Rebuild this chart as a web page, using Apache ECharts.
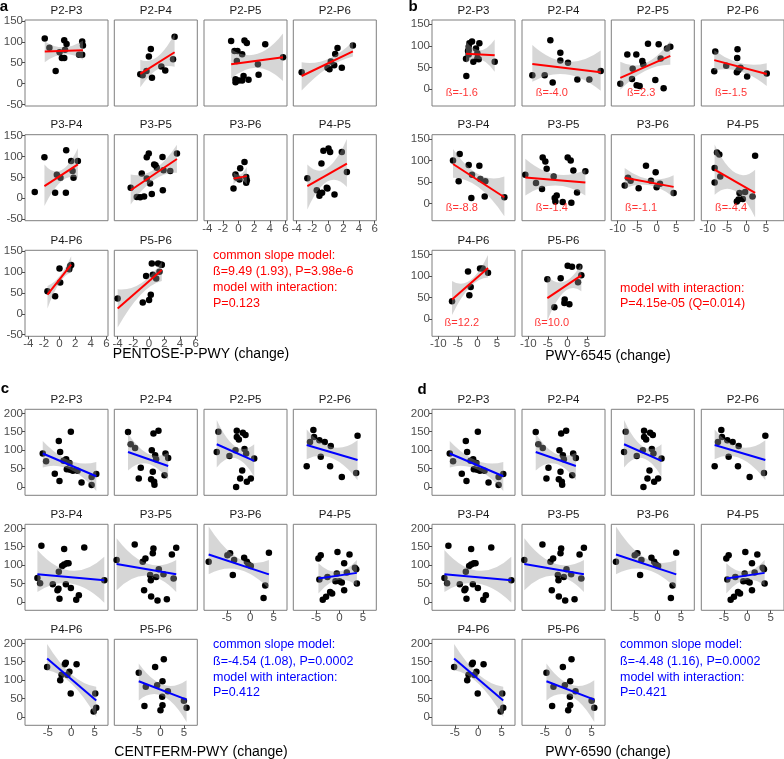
<!DOCTYPE html>
<html><head><meta charset="utf-8">
<script src="https://cdn.jsdelivr.net/npm/echarts@6/dist/echarts.min.js"></script>
<style>html,body{margin:0;padding:0;background:#fff}#c{width:784px;height:759px}</style>
</head><body><div id="c"></div>
<script>
// ---------------- DATA ----------------
const facets = ['P2-P3','P2-P4','P2-P5','P2-P6','P3-P4','P3-P5','P3-P6','P4-P5','P4-P6','P5-P6'];

// Panel a: PENTOSE-P-PWY
const a_points = [
 [[-1.9,108],[-1.3,86],[-0.5,30],[0,75],[0.3,61],[0.6,61],[0.6,104],[0.9,95],[0.7,81],[2.5,69],[2.9,69],[2.9,101],[3.0,91]],
 [[-1.1,22],[-0.8,20],[-0.3,30],[0,65],[0.25,83],[0.4,14],[1.6,41],[2.1,31],[3.1,58],[3.3,112]],
 [[-0.95,102],[-0.52,78],[-0.14,78],[-0.22,54],[0.46,70],[0.76,103],[1.06,97],[-0.39,10],[-0.39,3],[0.03,7],[0.46,7],[0.64,18],[1.28,9],[2.48,46],[2.57,21],[3.42,94],[5.7,63]],
 [[-3.36,27],[-0.05,38],[0.21,34],[0.38,53],[0.94,71],[1.24,85],[0.81,44],[1.79,38],[3.21,91]],
 [[-3.18,15],[-1.94,98],[-0.57,13],[-0.35,56],[0.12,49],[0.81,13],[0.85,115],[1.49,89],[1.67,65],[1.79,49],[2.35,89]],
 [[-2.33,25],[-1.55,3],[-1.12,2],[-0.91,59],[-0.61,4],[-0.27,47],[-0.27,98],[-0.01,107],[0.16,35],[0.38,10],[0.68,81],[0.85,79],[1.02,73],[1.75,99],[1.79,19],[1.88,67],[2.74,65],[3.6,107]],
 [[-0.65,23],[-0.39,57],[-0.22,49],[0.21,72],[0.12,45],[0.76,87],[0.98,51],[0.98,37],[1.06,43]],
 [[-2.63,48],[-1.42,19],[-1.08,6],[-0.74,13],[-0.82,83],[-0.57,114],[-0.14,25],[-0.05,23],[0.08,119],[0.29,111],[0.85,9],[1.79,111],[2.44,63]],
 [[-1.55,54],[-0.57,42],[-0.01,109],[0.08,75],[1.24,107],[1.36,115],[1.49,117]],
 [[-4.0,37],[-0.78,27],[-0.35,91],[0.03,33],[0.25,46],[0.38,121],[0.51,94],[0.94,85],[1.19,121],[1.58,118],[1.66,118],[1.36,101]]
];
const a_fits = [[-1.9,77,3.0,80],[-1.1,23,3.3,75],[-0.95,46,5.7,63],[-3.36,18,3.21,77],[-1.94,29,2.35,81],
 [-2.33,19,3.6,94],[-0.65,47,1.06,53],[-2.63,29,2.44,83],[-1.55,46,1.49,118],[-4.0,13,1.66,105]];
const a_bands = [
 [[-1.9,51,101],[0.55,70,87],[3.0,57,103]],
 [[-1.1,-9,57],[1.1,34,64],[3.3,40,120]],
 [[-0.95,12,82],[2.4,38,71],[5.7,6,120]],
 [[-3.36,-17,51],[-0.07,37,58],[3.21,65,101]],
 [[-1.94,-19,81],[0.2,40,67],[2.35,49,120]],
 [[-2.33,-15,57],[0.64,44,68],[3.6,61,128]],
 [[-0.65,33,63],[0.2,43,57],[1.06,33,75]],
 [[-2.63,-27,81],[-0.1,40,72],[2.44,27,142]],
 [[-1.55,13,67],[0,74,90],[1.49,99,138]],
 [[-4.0,-33,59],[-1.1,45,72],[1.66,79,125]]
];

// Panel b: PWY-6545
const b_points = [
 [[-2.84,30],[-2.92,70],[-2.41,88],[-2.24,98],[-2.07,106],[-1.39,110],[-1.05,63],[-0.37,94],[-0.03,83],[-0.03,71],[0.49,106],[0.32,69],[4.41,63],[-2.24,90],[-2.24,80]],
 [[-8.98,32],[-5.82,32],[-4.37,113],[-3.78,15],[-1.82,84],[-1.82,66],[0.14,61],[2.53,22],[5.6,22],[8.5,42]],
 [[-9.32,12],[-7.53,80],[-6.33,23],[-6.16,47],[-5.23,80],[-5.14,9],[-4.37,7],[-3.69,65],[-3.44,57],[-2.24,105],[-0.37,21],[0.49,104],[1.0,71],[1.76,2],[2.62,94],[3.47,98]],
 [[-8.3,41],[-8.04,87],[-5.23,54],[-2.33,92],[-2.5,39],[-2.07,44],[-1.56,49],[0.14,29],[-2.41,72],[5.17,36]],
 [[-6.25,100],[-4.8,52],[-4.54,115],[-2.24,90],[-1.56,13],[-1.39,67],[0.49,88],[0.74,57],[2.02,52],[1.85,17],[6.88,15]],
 [[-10.77,67],[-8.04,48],[-6.5,34],[-6.33,107],[-5.65,98],[-5.31,81],[-3.52,63],[-3.26,13],[-3.09,5],[-2.75,19],[-1.22,4],[0.06,107],[0.83,100],[1.51,77],[1.0,2],[2.45,26],[4.58,75]],
 [[-8.2,42],[-7.36,60],[-6.68,53],[-4.63,36],[-2.75,88],[-1.47,53],[-0.28,73],[-0.03,38],[0.83,46],[4.32,25]],
 [[-8.2,49],[-8.2,83],[-7.6,119],[-7.0,114],[-6.76,63],[-2.5,5],[-2.07,10],[-1.82,25],[-0.96,11],[-0.37,27],[1.51,17],[2.19,111]],
 [[-6.5,42],[-2.41,111],[-2.07,56],[-1.73,75],[0.66,118],[1.34,118],[2.7,108]],
 [[-5.14,93],[-3.35,28],[-1.73,95],[-0.79,38],[-0.71,46],[0.06,124],[0.49,35],[1.17,122],[2.7,86],[3.04,122],[3.55,102]]
];
const b_fits = [[-2.92,82,4.41,78],[-8.98,58,8.5,39],[-9.32,26,3.47,77],[-8.3,67,5.17,35],[-6.25,92,6.88,15],
 [-10.77,61,4.58,49],[-8.2,60,4.32,39],[-8.2,79,2.19,25],[-6.5,46,2.7,119],[-5.14,49,3.55,102]];
const b_bands = [
 [[-2.92,60,110],[0.74,69,90],[4.41,40,115]],
 [[-8.98,17,102],[-0.24,34,63],[8.5,-4,89]],
 [[-9.32,-2,63],[-2.9,42,60],[3.47,56,112]],
 [[-8.3,43,90],[-1.57,41,60],[5.17,7,60]],
 [[-6.25,60,127],[0.3,38,68],[6.88,-29,63]],
 [[-10.77,19,104],[-3.1,42,68],[4.58,19,79]],
 [[-8.2,36,83],[-1.9,43,57],[4.32,15,66]],
 [[-8.2,21,137],[-3.0,30,72],[2.19,-32,79]],
 [[-6.5,10,89],[-1.9,75,90],[2.7,97,149]],
 [[-5.14,-3,100],[-0.8,64,87],[3.55,65,128]]
];
const b_betas = ['ß=-1.6','ß=-4.0','ß=2.3','ß=-1.5','ß=-8.8','ß=-1.4','ß=-1.1','ß=-4.4','ß=12.2','ß=10.0'];

// Panel c: CENTFERM-PWY (panel d, PWY-6590, shows the same values)
const c_points = [
 [[-6.07,91],[-5.36,70],[-3.5,36],[-2.64,125],[-2.5,16],[-2.36,95],[-1.64,71],[-1.07,75],[-0.93,48],[-0.36,65],[-0.21,47],[-0.07,150],[0.36,44],[1.36,44],[2.21,12],[4.36,27],[4.36,5],[5.36,35]],
 [[-6.93,149],[-6.36,116],[-5.43,106],[-4.64,23],[-4.21,52],[-1.86,100],[-1.5,145],[-1.64,41],[-2.0,21],[-1.36,14],[-1.29,6],[-0.43,153],[-1.14,86],[-0.93,75],[0.86,32],[1.07,91],[1.64,79]],
 [[-7.14,95],[-6.79,150],[-4.43,84],[-3.14,100],[-2.86,153],[-2.86,136],[-2.43,129],[-2.14,23],[-3.0,0],[-1.71,45],[-1.57,147],[-1.21,103],[-1.0,141],[-0.86,91],[-0.71,14],[0.14,23],[0.86,77]],
 [[-7.0,56],[-6.29,122],[-5.57,155],[-5.43,136],[-4.29,127],[-4.0,82],[-3.14,122],[-1.86,111],[-2.0,56],[0.5,27],[3.57,38],[3.86,139]],
 [[-7.21,65],[-6.64,51],[-6.36,153],[-3.93,48],[-2.93,32],[-2.71,36],[-2.5,9],[-2.64,82],[-1.93,98],[-1.5,144],[-1.5,102],[-0.93,105],[-1.14,48],[-0.57,105],[-0.07,38],[1.07,6],[1.64,18],[2.79,148],[7.07,59]],
 [[-9.36,114],[-5.5,156],[-3.79,109],[-3.21,118],[-3.5,32],[-2.21,73],[-2.07,59],[-2.0,15],[-1.64,132],[-1.5,145],[-0.93,68],[-0.36,89],[-0.64,4],[0.64,75],[1.36,7],[2.43,129],[2.79,64],[3.36,147]],
 [[-8.86,109],[-4.86,127],[-4.29,132],[-3.71,73],[-3.43,114],[-1.29,120],[-0.71,109],[-0.36,102],[0.14,98],[3.21,45],[2.86,11],[4.0,134]],
 [[-4.29,61],[-2.57,68],[-4.5,118],[-4.0,127],[-3.57,6],[-2.86,14],[-2.0,27],[-1.57,23],[-0.57,77],[-0.86,56],[-0.43,136],[0,56],[0.5,53],[1.0,32],[1.0,105],[1.57,80],[2.14,129],[3.29,93],[3.57,89],[3.71,50]],
 [[-5.14,136],[-2.34,100],[-2.06,115],[-1.36,143],[-1.15,147],[-0.8,114],[-0.38,123],[-0.1,64],[1.15,143],[4.79,15],[5.14,64],[5.35,25]],
 [[-4.64,120],[-3.43,30],[-3.14,82],[-1.14,136],[-0.71,86],[0.0,18],[0.43,32],[0.43,97],[0.71,157],[0.36,55],[1.57,70],[5.0,44],[5.57,25]]
];
const c_fits = [[-6.07,91,5.36,29],[-6.93,95,1.64,57],[-7.14,116,0.86,71],[-7.0,114,3.86,73],[-7.21,75,7.07,59],
 [-9.36,103,3.36,75],[-8.86,129,4.0,75],[-4.5,64,3.71,79],[-5.14,159,5.35,45],[-4.64,97,5.57,47]];
const c_bands = [
 [[-6.07,53,125],[-0.36,48,72],[5.36,-11,68]],
 [[-6.93,45,145],[-2.65,63,90],[1.64,18,93]],
 [[-7.14,53,182],[-3.14,78,110],[0.86,27,116]],
 [[-7.0,75,156],[-1.57,78,108],[3.86,18,127]],
 [[-7.21,27,141],[-0.07,50,85],[7.07,-2,123]],
 [[-9.36,32,173],[-3.0,72,105],[3.36,27,114]],
 [[-8.86,75,205],[-2.43,88,118],[4.0,36,114]],
 [[-4.5,23,105],[-0.4,60,82],[3.71,44,114]],
 [[-5.14,127,198],[0.1,90,115],[5.35,0,82]],
 [[-4.64,45,145],[0.47,57,88],[5.57,-14,100]]
];
const d_points = c_points, d_fits = c_fits, d_bands = c_bands;

// tick labels
const a_xticks = [-4,-2,0,2,4,6], a_yticks = [-50,0,50,100,150];
const b_xticks = [-10,-5,0,5],   b_yticks = [0,50,100,150];
const c_xticks = [-5,0,5],       c_yticks = [0,50,100,150,200];

// texts
const a_text = ['common slope model:','ß=9.49 (1.93), P=3.98e-6','model with interaction:','P=0.123'];
const b_text = ['model with interaction:','P=4.15e-05 (Q=0.014)'];
const c_text = ['common slope model:','ß=-4.54 (1.08), P=0.0002','model with interaction:','P=0.412'];
const d_text = ['common slope model:','ß=-4.48 (1.16), P=0.0002','model with interaction:','P=0.421'];
const xTitles = ['PENTOSE-P-PWY (change)','PWY-6545 (change)','CENTFERM-PWY (change)','PWY-6590 (change)'];

// ---------------- LAYOUT ----------------
const FONT = '"Liberation Sans", Arial, sans-serif';
const W = 83, H = 86;
const colsL = [25,114.3,204,293.3], colsR = [432,522,611.3,701.3];
const rowsTop = [20,134.7,250.3], rowsBot = [409.3,524.3,639.3];

const panels = [
 {letter:'a', lx:4, ly:7, cols:colsL, rows:rowsTop, xr:[-4.43,6.21], yr:[-54,152.4], xt:a_xticks, yt:a_yticks,
  pts:a_points, fits:a_fits, bands:a_bands, color:'#ff0000', text:a_text, tx:213, ty:[256,272,288,304], title:xTitles[0], titleX:201, titleY:354},
 {letter:'b', lx:413, ly:7, cols:colsR, rows:rowsTop, xr:[-11.62,9.6], yr:[-39.4,160], xt:b_xticks, yt:b_yticks,
  pts:b_points, fits:b_fits, bands:b_bands, color:'#ff0000', text:b_text, tx:620, ty:[289,304], title:xTitles[1], titleX:608, titleY:356, betas:b_betas},
 {letter:'c', lx:5, ly:389, cols:colsL, rows:rowsBot, xr:[-9.86,7.86], yr:[-22.7,211], xt:c_xticks, yt:c_yticks,
  pts:c_points, fits:c_fits, bands:c_bands, color:'#0000ff', text:c_text, tx:213, ty:[645,661.5,677.5,693], title:xTitles[2], titleX:201, titleY:752},
 {letter:'d', lx:422, ly:390, cols:colsR, rows:rowsBot, xr:[-9.86,7.86], yr:[-22.7,211], xt:c_xticks, yt:c_yticks,
  pts:d_points, fits:d_fits, bands:d_bands, color:'#0000ff', text:d_text, tx:620, ty:[645,661.5,677.5,693], title:xTitles[3], titleX:608, titleY:752}
];

function bandRenderer(band) {
  return function (params, api) {
    const up = band.map(b => api.coord([b[0], b[2]]));
    const lo = band.map(b => api.coord([b[0], b[1]]));
    // quadratic curve passing through the three read points
    const ctl = q => [2*q[1][0] - (q[0][0]+q[2][0])/2, 2*q[1][1] - (q[0][1]+q[2][1])/2];
    const cu = ctl(up), cl = ctl(lo);
    const d = 'M' + up[0][0] + ' ' + up[0][1] + ' Q' + cu[0] + ' ' + cu[1] + ' ' + up[2][0] + ' ' + up[2][1] +
              ' L' + lo[2][0] + ' ' + lo[2][1] + ' Q' + cl[0] + ' ' + cl[1] + ' ' + lo[0][0] + ' ' + lo[0][1] + ' Z';
    const cs = params.coordSys;
    return {type:'group', children:[{type:'path', shape:{pathData:d}, style:{fill:'rgba(153,153,153,0.4)', stroke:null}}],
            clipPath:{type:'rect', shape:{x:cs.x, y:cs.y, width:cs.width, height:cs.height}}};
  };
}

const grid=[], xAxis=[], yAxis=[], series=[], graphic=[];
let gi = 0;
panels.forEach(p => {
  graphic.push({type:'text', x:p.lx, y:p.ly, silent:true,
    style:{text:p.letter, fill:'#000', font:'bold 15px '+FONT, textAlign:'center', textVerticalAlign:'middle'}});
  p.text.forEach((t,k) => graphic.push({type:'text', x:p.tx, y:p.ty[k], silent:true,
    style:{text:t, fill:p.color, font:'12.5px '+FONT, textAlign:'left', textVerticalAlign:'middle'}}));
  graphic.push({type:'text', x:p.titleX, y:p.titleY, silent:true,
    style:{text:p.title, fill:'#000', font:'14px '+FONT, textAlign:'center', textVerticalAlign:'middle'}});

  facets.forEach((name, f) => {
    const row = f < 4 ? 0 : (f < 8 ? 1 : 2);
    const col = f < 4 ? f : (f < 8 ? f - 4 : f - 8);
    const left = p.cols[col], top = p.rows[row];
    const showX = f >= 6, showY = col === 0;
    grid.push({left:left, top:top, width:W, height:H, show:true, borderColor:'#7f7f7f', borderWidth:1,
      backgroundColor:'#ffffff', containLabel:false});
    const xa = {gridIndex:gi, type:'value', min:p.xr[0], max:p.xr[1], name:'', position:'bottom',
      axisLine:{show:false, onZero:false}, splitLine:{show:false}, splitArea:{show:false}, minorTick:{show:false},
      axisTick:{show:false}, axisLabel:{show:false}};
    if (showX) {
      xa.axisTick = {show:true, length:3, lineStyle:{color:'#4d4d4d'}, customValues:p.xt};
      xa.axisLabel = {show:true, customValues:p.xt, color:'#4d4d4d', fontSize:11.5, margin:2, fontFamily:FONT, hideOverlap:false};
    }
    xAxis.push(xa);
    const ya = {gridIndex:gi, type:'value', min:p.yr[0], max:p.yr[1], name:'', position:'left',
      axisLine:{show:false, onZero:false}, splitLine:{show:false}, splitArea:{show:false}, minorTick:{show:false},
      axisTick:{show:false}, axisLabel:{show:false}};
    if (showY) {
      ya.axisTick = {show:true, length:3, lineStyle:{color:'#4d4d4d'}, customValues:p.yt};
      ya.axisLabel = {show:true, customValues:p.yt, color:'#4d4d4d', fontSize:11.5, margin:2, fontFamily:FONT, hideOverlap:false};
    }
    yAxis.push(ya);
    graphic.push({type:'text', x:left + W/2, y:top - 9.5, silent:true,
      style:{text:name, fill:'#1a1a1a', font:'11.5px '+FONT, textAlign:'center', textVerticalAlign:'middle'}});

    series.push({type:'scatter', xAxisIndex:gi, yAxisIndex:gi, data:p.pts[f], symbolSize:6.5,
      itemStyle:{color:'#000000', opacity:1}, silent:true, z:2});
    const band = p.bands[f];
    series.push({type:'custom', xAxisIndex:gi, yAxisIndex:gi, data:[band[1]], silent:true, z:3,
      renderItem: bandRenderer(band)});
    const ft = p.fits[f];
    series.push({type:'line', xAxisIndex:gi, yAxisIndex:gi, data:[[ft[0],ft[1]],[ft[2],ft[3]]],
      symbol:'none', showSymbol:false, lineStyle:{color:p.color, width:2}, silent:true, z:4});
    if (p.betas) {
      series.push({type:'scatter', xAxisIndex:gi, yAxisIndex:gi, data:[[-4, -9]], symbolSize:0, silent:true, z:5,
        label:{show:true, position:'inside', formatter:p.betas[f], color:'#ff0000', fontSize:11, fontFamily:FONT}});
    }
    gi++;
  });
});

const chart = echarts.init(document.getElementById('c'), null, {renderer:'canvas'});
chart.setOption({animation:false, backgroundColor:'#ffffff', grid, xAxis, yAxis, series, graphic});
</script>
</body></html>
